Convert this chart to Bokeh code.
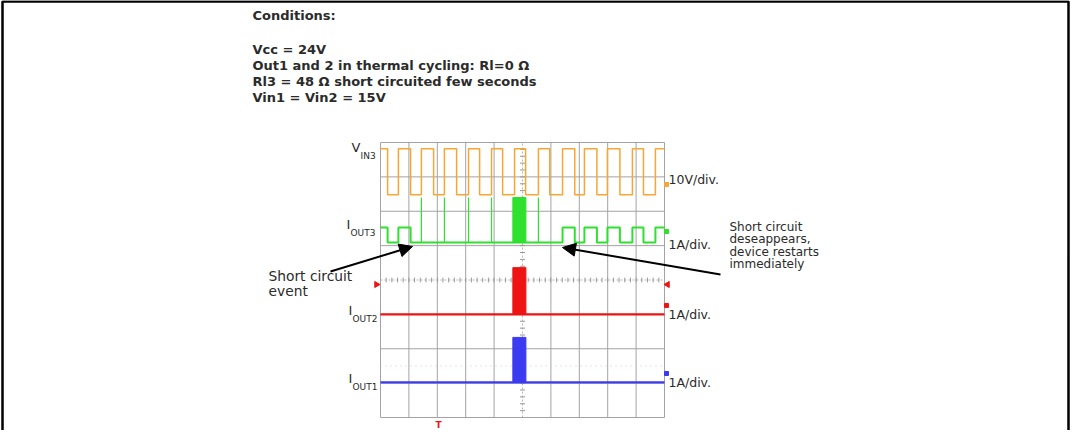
import numpy as np
from bokeh.plotting import figure
from bokeh.models import Range1d, Arrow, NormalHead, Label
from bokeh.embed import file_html
from bokeh.resources import INLINE

# ---------------- data (oscilloscope divisions: t = 0..10, v = 0..8) -------------
orange_rise = [0.63, 1.44, 2.25, 3.10, 3.91, 4.72, 5.56, 6.41, 7.18, 7.99, 8.87, 9.68]
orange_fall = [0.25, 1.06, 1.87, 2.68, 3.49, 4.30, 5.11, 5.96, 6.84, 7.62, 8.43, 9.26]
orange_low, orange_high = 6.48, 7.82

green_rise = [0.63, 6.41, 7.18, 7.99, 8.87, 9.68]
green_fall = [0.25, 1.06, 6.84, 7.62, 8.43, 9.26]
green_low, green_high = 5.09, 5.53
green_spikes = [1.44, 2.25, 3.10, 3.91, 5.56]
green_peak = 6.40

burst_start, burst_end = 4.66, 5.12
red_base, red_peak = 3.00, 4.36
blue_base, blue_peak = 1.02, 2.33

header_lines = ["Conditions:", "Vcc = 24V",
                "Out1 and 2 in thermal cycling: Rl=0 \u03a9",
                "Rl3 = 48 \u03a9 short circuited few seconds",
                "Vin1 = Vin2 = 15V"]
scale_labels = ["10V/div.", "1A/div.", "1A/div.", "1A/div."]

# ---------------- geometry ------------------------------------------------------
W, H = 1070, 430
X0, X1 = 388.0, 672.0     # page px of t = 0 and t = 10
Y0, Y1 = 425.0, 150.0     # page px of v = 0 and v = 8
DX = (X1 - X0) / 10
DY = (Y0 - Y1) / 8

def tx(px):
    return (px - X0) / DX

def vy(py):
    return (Y0 - py) / DY

p = figure(width=W, height=H, x_range=Range1d(tx(8), tx(8 + W)),
           y_range=Range1d(vy(8 + H), vy(8)), output_backend="svg",
           toolbar_location=None, x_axis_type=None, y_axis_type=None,
           min_border=0, outline_line_color=None, background_fill_color="white")

# outer document frame
p.line([tx(10), tx(10), tx(1076), tx(1076)], [vy(460), vy(9), vy(9), vy(460)],
       line_color="black", line_width=2.5)

# ---------------- scope grid -----------------------------------------------------
GRID = "#a3a3a3"
vx = [i for i in range(11) if i != 5]
p.segment(x0=vx, y0=[0] * len(vx), x1=vx, y1=[8] * len(vx), line_color=GRID, line_width=1)
hy = [i for i in range(9) if i != 4]
p.segment(x0=[0] * len(hy), y0=hy, x1=[10] * len(hy), y1=hy, line_color=GRID, line_width=1)
# centre lines with minor ticks
p.line([5, 5], [0, 8], line_color="#b5b5b5", line_width=1, line_dash="2 2")
p.line([0, 10], [4, 4], line_color="#b5b5b5", line_width=1, line_dash="2 2")
p.line([0, 10], [1.5, 1.5], line_color="#c8c8c8", line_width=1, line_dash="1 4")
tv = np.arange(0.2, 8.0, 0.2)
p.segment(x0=5 - 0.09, y0=tv, x1=5 + 0.09, y1=tv, line_color="#999999", line_width=1)
th = np.arange(0.2, 10.0, 0.2)
p.segment(x0=th, y0=4 - 0.07, x1=th, y1=4 + 0.07, line_color="#999999", line_width=1)


def step_wave(t_on, t_off, lo, hi, start_high, t_end=10.0):
    ev = sorted([(t, hi) for t in t_on] + [(t, lo) for t in t_off])
    state = hi if start_high else lo
    xs, ys = [0.0], [state]
    for t, s in ev:
        xs += [t, t]
        ys += [state, s]
        state = s
    xs.append(t_end)
    ys.append(state)
    return xs, ys

ORANGE, GREEN, RED, BLUE = "#f7a535", "#2fe02f", "#ee1414", "#3b3bf2"

# V_IN3
ox, oy = step_wave(orange_rise, orange_fall, orange_low, orange_high, True)
p.line(ox, oy, line_color=ORANGE, line_width=1.5)

# I_OUT3
gx, gy = step_wave(green_rise, green_fall, green_low, green_high, True)
p.line(gx, gy, line_color=GREEN, line_width=2)
p.segment(x0=green_spikes, y0=[green_low] * len(green_spikes), x1=green_spikes,
          y1=[green_peak] * len(green_spikes), line_color=GREEN, line_width=1.2)
p.quad(left=[burst_start], right=[burst_end], bottom=[green_low], top=[green_peak],
       fill_color=GREEN, line_color=GREEN)

# I_OUT2
p.line([0, 10], [red_base, red_base], line_color=RED, line_width=2.2)
p.quad(left=[burst_start], right=[burst_end], bottom=[red_base], top=[red_peak],
       fill_color=RED, line_color=RED)

# I_OUT1
p.line([0, 10], [blue_base, blue_base], line_color=BLUE, line_width=2.2)
p.quad(left=[burst_start], right=[burst_end], bottom=[blue_base], top=[blue_peak],
       fill_color=BLUE, line_color=BLUE)

# trigger markers
p.scatter([tx(384)], [vy(292)], marker="triangle", angle=-np.pi / 2, size=6,
          fill_color=RED, line_color=RED)
p.scatter([tx(675)], [vy(292)], marker="triangle", angle=np.pi / 2, size=6,
          fill_color=RED, line_color=RED)
# channel ground markers on the right edge
p.scatter([tx(674)] * 4, [vy(192), vy(239), vy(313), vy(381)], marker="square", size=4,
          fill_color=[ORANGE, GREEN, RED, BLUE], line_color=[ORANGE, GREEN, RED, BLUE])

FONT = "DejaVu Sans"
TXT = "#2b2b2b"


def label(px, py, text, size, color=TXT, style="normal", align="left", lh=1.2):
    p.add_layout(Label(x=tx(px), y=vy(py), text=text, text_font=FONT,
                       text_font_size=size, text_color=color, text_font_style=style,
                       text_align=align, text_baseline="middle", text_line_height=lh))

# header
header_y = [23, 56.5, 72.5, 88.5, 104.5]
for txt_, yy in zip(header_lines, header_y):
    label(260, yy, txt_, "13px", style="bold")

# channel names with subscripts
label(359, 155, "V", "13px")
label(368, 163, "IN3", "9px")
label(354, 232, "I", "13px")
label(358, 240, "OUT3", "9px")
label(356, 318, "I", "13px")
label(360, 326, "OUT2", "9px")
label(356, 386, "I", "13px")
label(360, 394, "OUT1", "9px")

# scale labels
for txt_, yy in zip(scale_labels, [187, 252, 322, 390]):
    label(676, yy, txt_, "12.5px")

# red trigger position marker
label(446, 432, "T", "9px", color=RED, style="bold", align="center")

# annotations
label(276, 291, "Short circuit\nevent", "13.8px", lh=0.95)
label(737, 253, "Short circuit\ndeseappears,\ndevice restarts\nimmediately", "12px", lh=0.9)

p.add_layout(Arrow(end=NormalHead(size=13, fill_color="black", line_color="black"),
                   x_start=tx(338), y_start=vy(279), x_end=tx(420), y_end=vy(254),
                   line_color="black", line_width=2))
p.add_layout(Arrow(end=NormalHead(size=13, fill_color="black", line_color="black"),
                   x_start=tx(728), y_start=vy(282), x_end=tx(570), y_end=vy(255),
                   line_color="black", line_width=2))

open("out.html", "w").write(file_html(p, INLINE))
